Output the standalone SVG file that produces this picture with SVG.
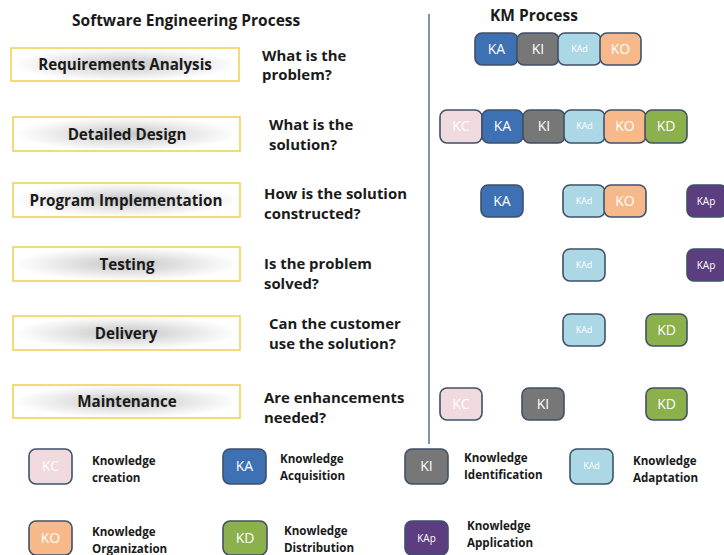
<svg xmlns="http://www.w3.org/2000/svg" width="724" height="555" viewBox="0 0 724 555">
<defs>
<radialGradient id="sh" cx="50%" cy="50%" r="50%">
<stop offset="0" stop-color="#c4c4c4"/>
<stop offset="0.55" stop-color="#e6e6e6"/>
<stop offset="1" stop-color="#ffffff"/>
</radialGradient>
<style>
text{font-family:"Open Sans","Liberation Sans",sans-serif;font-weight:700;fill:#1a1a1a}
.title{font-size:15.5px}
.step rect{fill:url(#sh);stroke:#f2d158;stroke-width:1.6}
.step text{font-size:15.2px;text-anchor:middle}
.q{font-size:14.9px}
.k rect{stroke:#3f5068;stroke-width:1.6;rx:7}
.k text{font-weight:400;fill:#fff;text-anchor:middle;font-size:14px}
.k text.s{font-size:9px}
.KA rect{fill:#3e70b4}
.KI rect{fill:#777777}
.KAd rect{fill:#acd8e6}
.KO rect{fill:#f8b98a}
.KD rect{fill:#8cb04c}
.KC rect{fill:#f1dadd}
.KAp rect{fill:#5b3d80}
.lg{font-size:11.6px}
</style>
</defs>
<rect width="724" height="555" fill="#fff"/>
<text class="title" x="72" y="26">Software Engineering Process</text>
<text class="title" x="490" y="21">KM Process</text>
<g id="connectors"><line x1="429" y1="14" x2="429" y2="444" stroke="#8593a6" stroke-width="2"/></g>

<g id="step-req" class="step"><rect x="11" y="48" width="228" height="33"/><text x="125" y="70">Requirements Analysis</text></g>
<g id="step-design" class="step"><rect x="13" y="117" width="227" height="34"/><text x="127" y="140">Detailed Design</text></g>
<g id="step-impl" class="step"><rect x="13" y="183" width="227" height="34"/><text x="126" y="206">Program Implementation</text></g>
<g id="step-test" class="step"><rect x="13" y="247" width="227" height="34"/><text x="127" y="270">Testing</text></g>
<g id="step-deliv" class="step"><rect x="13" y="316" width="227" height="34"/><text x="126" y="339">Delivery</text></g>
<g id="step-maint" class="step"><rect x="13" y="385" width="227" height="33"/><text x="127" y="407">Maintenance</text></g>

<g id="questions" class="q">
<text x="262" y="61">What is the</text><text x="262" y="80">problem?</text>
<text x="269" y="130">What is the</text><text x="269" y="149.5">solution?</text>
<text x="264" y="199">How is the solution</text><text x="264" y="218.5">constructed?</text>
<text x="264" y="269">Is the problem</text><text x="264" y="288.5">solved?</text>
<text x="269" y="329">Can the customer</text><text x="269" y="348.5">use the solution?</text>
<text x="264" y="403">Are enhancements</text><text x="264" y="422.5">needed?</text>
</g>

<!-- row 1 -->
<g id="r1-KA" class="k KA"><rect x="475" y="33" width="43" height="32"/><text x="496.5" y="54">KA</text></g>
<g id="r1-KI" class="k KI"><rect x="517" y="33" width="42" height="32"/><text x="538" y="54">KI</text></g>
<g id="r1-KAd" class="k KAd"><rect x="558" y="33" width="43" height="32"/><text class="s" x="579.5" y="52">KAd</text></g>
<g id="r1-KO" class="k KO"><rect x="600" y="33" width="41" height="32"/><text x="620.5" y="54">KO</text></g>
<!-- row 2 -->
<g id="r2-KC" class="k KC"><rect x="440" y="110" width="42" height="33"/><text x="461" y="131">KC</text></g>
<g id="r2-KA" class="k KA"><rect x="482" y="110" width="41" height="33"/><text x="502.5" y="131">KA</text></g>
<g id="r2-KI" class="k KI"><rect x="523" y="110" width="42" height="33"/><text x="544" y="131">KI</text></g>
<g id="r2-KAd" class="k KAd"><rect x="564" y="110" width="41" height="33"/><text class="s" x="584.5" y="129">KAd</text></g>
<g id="r2-KO" class="k KO"><rect x="604" y="110" width="42" height="33"/><text x="625" y="131">KO</text></g>
<g id="r2-KD" class="k KD"><rect x="645" y="110" width="42" height="33"/><text x="666" y="131">KD</text></g>
<!-- row 3 -->
<g id="r3-KA" class="k KA"><rect x="481" y="185" width="42" height="32"/><text x="502" y="206">KA</text></g>
<g id="r3-KAd" class="k KAd"><rect x="563" y="185" width="42" height="32"/><text class="s" x="584" y="204">KAd</text></g>
<g id="r3-KO" class="k KO"><rect x="604" y="185" width="42" height="32"/><text x="625" y="206">KO</text></g>
<g id="r3-KAp" class="k KAp"><rect x="687" y="185" width="40" height="32"/><text class="s" x="706" y="205" style="font-size:10px">KAp</text></g>
<!-- row 4 -->
<g id="r4-KAd" class="k KAd"><rect x="563" y="249" width="42" height="32"/><text class="s" x="584" y="268">KAd</text></g>
<g id="r4-KAp" class="k KAp"><rect x="687" y="249" width="40" height="32"/><text class="s" x="706" y="269" style="font-size:10px">KAp</text></g>
<!-- row 5 -->
<g id="r5-KAd" class="k KAd"><rect x="563" y="314" width="42" height="32"/><text class="s" x="584" y="333">KAd</text></g>
<g id="r5-KD" class="k KD"><rect x="646" y="314" width="41" height="32"/><text x="666.5" y="335">KD</text></g>
<!-- row 6 -->
<g id="r6-KC" class="k KC"><rect x="440" y="388" width="42" height="32"/><text x="461" y="409">KC</text></g>
<g id="r6-KI" class="k KI"><rect x="522" y="388" width="42" height="32"/><text x="543" y="409">KI</text></g>
<g id="r6-KD" class="k KD"><rect x="646" y="388" width="41" height="32"/><text x="666.5" y="409">KD</text></g>

<!-- legend -->
<g id="lg-KC"><g class="k KC"><rect x="29" y="449" width="43" height="35"/><text x="50.5" y="471">KC</text></g><text class="lg" x="92" y="465">Knowledge</text><text class="lg" x="92" y="481.5">creation</text></g>
<g id="lg-KA"><g class="k KA"><rect x="223" y="449" width="43" height="35"/><text x="244.5" y="471">KA</text></g><text class="lg" x="280" y="463">Knowledge</text><text class="lg" x="280" y="479.5">Acquisition</text></g>
<g id="lg-KI"><g class="k KI"><rect x="405" y="449" width="43" height="35"/><text x="426.5" y="471">KI</text></g><text class="lg" x="464" y="462">Knowledge</text><text class="lg" x="464" y="478.5">Identification</text></g>
<g id="lg-KAd"><g class="k KAd"><rect x="570" y="449" width="43" height="35"/><text class="s" x="591.5" y="469">KAd</text></g><text class="lg" x="633" y="465">Knowledge</text><text class="lg" x="633" y="481.5">Adaptation</text></g>
<g id="lg-KO"><g class="k KO"><rect x="29" y="521" width="43" height="34"/><text x="50.5" y="543">KO</text></g><text class="lg" x="92" y="536">Knowledge</text><text class="lg" x="92" y="552.5">Organization</text></g>
<g id="lg-KD"><g class="k KD"><rect x="223" y="521" width="44" height="34"/><text x="245" y="543">KD</text></g><text class="lg" x="284" y="535">Knowledge</text><text class="lg" x="284" y="551.5">Distribution</text></g>
<g id="lg-KAp"><g class="k KAp"><rect x="405" y="521" width="43" height="34"/><text class="s" x="426.5" y="542" style="font-size:10px">KAp</text></g><text class="lg" x="467" y="530">Knowledge</text><text class="lg" x="467" y="547">Application</text></g>
</svg>
